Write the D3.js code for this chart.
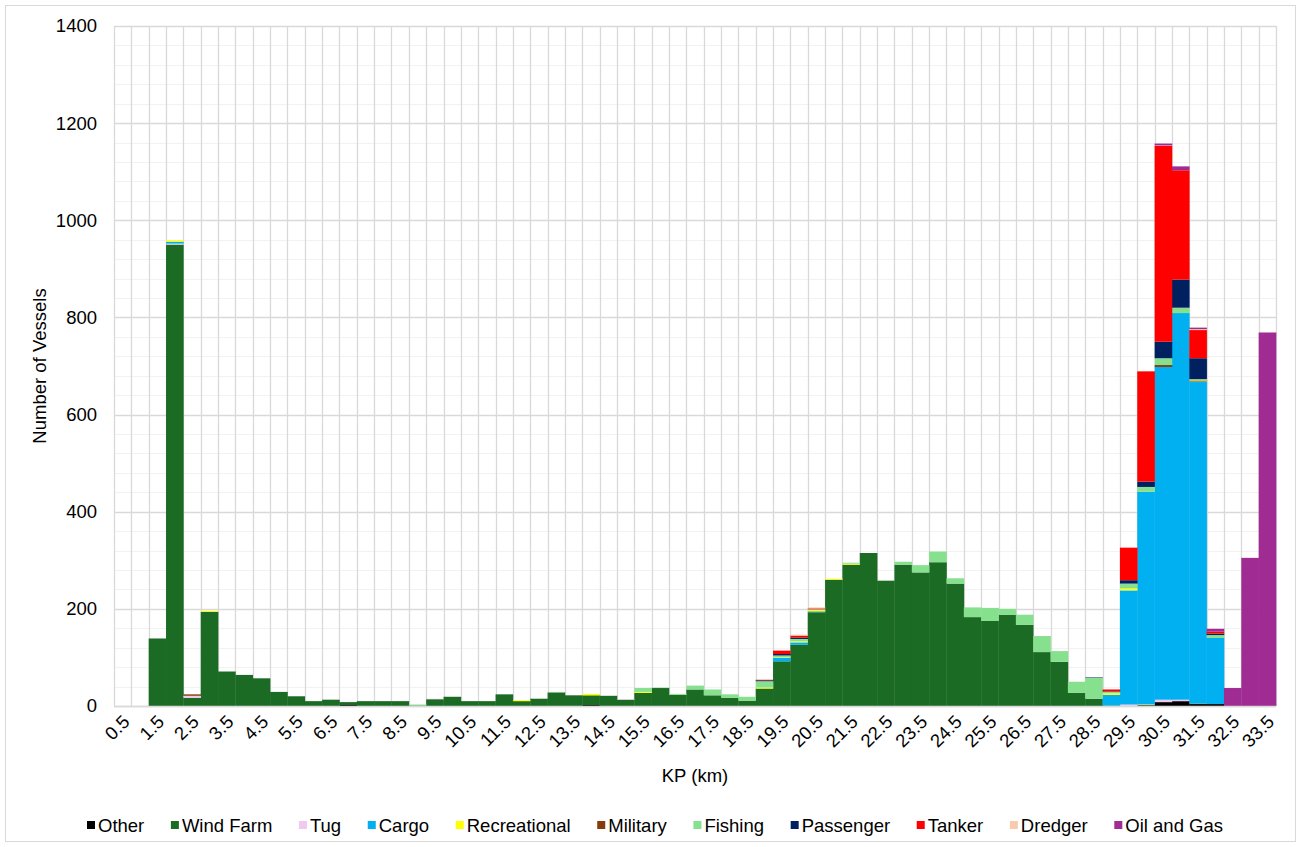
<!DOCTYPE html>
<html>
<head>
<meta charset="utf-8">
<script src="https://cdn.jsdelivr.net/npm/d3@7"></script>
<style>
  html, body { margin: 0; padding: 0; background: #fff; }
  svg text { font-family: "Liberation Sans", Arial, sans-serif; fill: #000; }
</style>
</head>
<body>
<svg id="chart" width="1301" height="847"></svg>
<script>
// Kilometre-post bins (0.5 km steps)
const categories = [
  "0.5","1.0","1.5","2.0","2.5","3.0","3.5","4.0","4.5","5.0",
  "5.5","6.0","6.5","7.0","7.5","8.0","8.5","9.0","9.5","10.0",
  "10.5","11.0","11.5","12.0","12.5","13.0","13.5","14.0","14.5","15.0",
  "15.5","16.0","16.5","17.0","17.5","18.0","18.5","19.0","19.5","20.0",
  "20.5","21.0","21.5","22.0","22.5","23.0","23.5","24.0","24.5","25.0",
  "25.5","26.0","26.5","27.0","27.5","28.0","28.5","29.0","29.5","30.0",
  "30.5","31.0","31.5","32.0","32.5","33.0","33.5"
];

// Labelled ticks on the KP axis
const tickLabels = [
  "0.5","1.5","2.5","3.5","4.5","5.5","6.5","7.5","8.5","9.5",
  "10.5","11.5","12.5","13.5","14.5","15.5","16.5","17.5","18.5","19.5",
  "20.5","21.5","22.5","23.5","24.5","25.5","26.5","27.5","28.5","29.5",
  "30.5","31.5","32.5","33.5"
];

const yTicks = [0, 200, 400, 600, 800, 1000, 1200, 1400];

// Vessel counts per bin, one array per vessel type
const other = [
  0,0,0,0,0,0,0,0,0,0,
  0,0,0,2,0,0,0,0,0,0,
  0,0,0,0,0,0,0,2,0,0,
  0,0,0,0,0,0,0,0,0,0,
  0,0,0,0,0,0,0,0,0,0,
  0,0,0,0,0,0,0,0,0,0,
  8,10,4,4,0,0,0
];
const windFarm = [
  0,0,139,950,17,194,71,64,57,29,
  20,10,13,6,10,10,10,1,14,19,
  10,10,24,10,15,28,22,20,21,13,
  27,37,23,34,22,17,11,36,92,126,
  193,260,291,315,258,291,275,296,252,183,
  175,188,167,111,91,27,15,1,0,3,
  0,0,1,0,0,0,0
];
const tug = [
  0,0,0,2,4,0,0,0,0,0,
  0,0,0,0,0,0,0,0,1,0,
  0,0,0,0,0,0,0,0,0,1,
  0,0,0,0,0,0,0,0,0,0,
  0,0,0,0,0,0,0,0,0,0,
  0,0,0,0,0,0,0,0,3,1,
  5,3,0,0,0,0,0
];
const cargo = [
  0,0,0,4,0,0,0,0,0,0,
  0,0,0,0,0,0,0,0,0,0,
  0,0,0,0,0,0,0,0,0,0,
  0,0,0,0,0,0,0,0,7,5,
  2,0,0,0,0,0,0,0,0,0,
  0,0,0,0,0,0,0,22,235,437,
  685,796,662,136,0,0,0
];
const recreational = [
  0,0,0,3,0,2,0,0,0,0,
  0,0,0,0,0,0,0,0,0,0,
  0,0,0,2,0,0,0,3,0,0,
  2,0,0,0,0,0,0,2,1,2,
  3,2,2,0,0,0,0,0,0,0,
  0,0,0,0,0,0,0,3,4,0,
  0,0,1,0,0,0,0
];
const military = [
  0,0,0,0,3,0,0,0,0,0,
  0,0,0,0,0,0,0,0,0,0,
  0,0,0,0,0,0,0,0,0,0,
  0,0,0,0,0,0,0,0,0,0,
  0,0,0,0,0,0,0,0,0,0,
  0,0,0,0,0,0,0,0,0,0,
  4,0,2,0,0,0,0
];
const fishing = [
  0,0,0,0,0,0,0,0,0,0,
  0,0,0,0,0,0,0,2,0,0,
  0,0,0,0,0,1,0,0,0,0,
  8,1,2,8,12,7,8,13,4,5,
  1,0,2,0,0,6,15,22,11,20,
  27,12,21,33,22,23,43,3,10,10,
  14,11,3,6,0,0,0
];
const passenger = [
  0,0,0,0,0,0,0,0,0,0,
  0,0,0,0,0,0,0,0,0,0,
  0,0,0,0,0,0,0,0,0,0,
  0,0,0,0,0,0,0,2,3,3,
  0,0,0,0,0,0,0,0,0,0,
  0,0,0,0,0,0,1,1,7,11,
  34,58,43,3,0,0,0
];
const tanker = [
  0,0,0,0,0,0,0,0,0,0,
  0,0,0,0,0,0,0,0,0,0,
  0,0,0,0,0,0,0,0,0,0,
  0,0,0,0,0,0,0,1,7,4,
  2,0,0,0,0,0,0,0,0,0,
  0,0,0,0,0,0,0,4,67,227,
  403,225,58,4,0,0,0
];
const dredger = [
  0,0,0,0,0,0,0,0,0,0,
  0,0,0,0,0,0,0,0,0,0,
  0,0,0,0,0,0,0,0,0,0,
  0,0,0,0,0,0,0,0,0,2,
  2,0,0,0,0,0,0,0,0,0,
  0,0,0,0,0,0,0,0,0,0,
  1,0,2,0,0,0,0
];
const oilAndGas = [
  0,0,0,0,0,0,0,0,0,0,
  0,0,0,0,0,0,0,0,0,0,
  0,0,0,0,0,0,0,0,0,0,
  0,0,0,0,0,0,0,0,0,0,
  0,0,0,0,0,0,0,0,0,0,
  0,0,0,0,0,0,0,0,0,0,
  4,8,3,6,37,305,769
];

const seriesNames = ["Other","Wind Farm","Tug","Cargo","Recreational","Military","Fishing","Passenger","Tanker","Dredger","Oil and Gas"];
const seriesValues = [other, windFarm, tug, cargo, recreational, military, fishing, passenger, tanker, dredger, oilAndGas];
const seriesColors = ["#000000","#1b6b24","#f2c9ee","#00b0f0","#ffff00","#843c0c","#86e08e","#002060","#ff0000","#f8cbad","#a02b93"];

// Build row objects for d3.stack
const rows = categories.map((c, i) => {
  const r = { kp: c };
  seriesNames.forEach((n, s) => { r[n] = seriesValues[s][i]; });
  return r;
});

const svg = d3.select("#chart");
const W = 1301, H = 847;
const plot = { left: 114, right: 1276, top: 26, bottom: 706 };
const FONT = "18.5px";

// Outer chart border
svg.append("rect")
  .attr("x", 5.5).attr("y", 5.5)
  .attr("width", W - 11).attr("height", H - 11)
  .attr("fill", "#fff").attr("stroke", "#d9d9d9").attr("stroke-width", 1);

const x = d3.scaleBand().domain(categories).range([plot.left, plot.right]).padding(0);
const y = d3.scaleLinear().domain([0, 1400]).range([plot.bottom, plot.top]);

// Minor horizontal gridlines
const grid = svg.append("g");
grid.selectAll("line.minor")
  .data(d3.range(0, 1401, 40).filter(v => v % 200 !== 0))
  .join("line")
  .attr("x1", plot.left).attr("x2", plot.right)
  .attr("y1", d => Math.round(y(d)) + 0.5).attr("y2", d => Math.round(y(d)) + 0.5)
  .attr("stroke", "#f2f2f2").attr("stroke-width", 1);

// Vertical gridlines at every bin boundary
const boundaries = categories.map(c => x(c)).concat([plot.right]);
grid.selectAll("line.v")
  .data(boundaries)
  .join("line")
  .attr("x1", d => Math.round(d) + 0.5).attr("x2", d => Math.round(d) + 0.5)
  .attr("y1", plot.top).attr("y2", plot.bottom)
  .attr("stroke", "#d9d9d9").attr("stroke-width", 1.3);

// Major horizontal gridlines
grid.selectAll("line.major")
  .data(yTicks)
  .join("line")
  .attr("x1", plot.left).attr("x2", plot.right)
  .attr("y1", d => Math.round(y(d)) + 0.5).attr("y2", d => Math.round(y(d)) + 0.5)
  .attr("stroke", "#d9d9d9").attr("stroke-width", 1.3);

// Stacked bars
const stacked = d3.stack().keys(seriesNames)(rows);
svg.append("g").selectAll("g")
  .data(stacked)
  .join("g")
  .attr("fill", (d, i) => seriesColors[i])
  .selectAll("rect")
  .data(d => d)
  .join("rect")
  .attr("x", d => x(d.data.kp))
  .attr("width", x.bandwidth() + 0.3)
  .attr("y", d => y(d[1]))
  .attr("height", d => Math.max(0, y(d[0]) - y(d[1])));

// Category axis baseline
svg.append("line")
  .attr("x1", plot.left).attr("x2", plot.right)
  .attr("y1", plot.bottom + 0.5).attr("y2", plot.bottom + 0.5)
  .attr("stroke", "#d9d9d9").attr("stroke-width", 1.3);

// Y axis
const yAxis = svg.append("g")
  .attr("transform", `translate(${plot.left},0)`)
  .call(d3.axisLeft(y).tickValues(yTicks).tickFormat(d3.format("d")).tickSize(0).tickPadding(17));
yAxis.select(".domain").remove();
yAxis.selectAll("text")
  .style("font-family", '"Liberation Sans", Arial, sans-serif')
  .style("font-size", FONT).attr("fill", "#000");

// X axis with rotated labels
const xAxis = svg.append("g")
  .attr("transform", `translate(0,${plot.bottom})`)
  .call(d3.axisBottom(x).tickValues(tickLabels).tickSize(0).tickPadding(0));
xAxis.select(".domain").remove();
xAxis.selectAll("text")
  .style("font-family", '"Liberation Sans", Arial, sans-serif')
  .style("font-size", FONT).attr("fill", "#000")
  .attr("text-anchor", "end")
  .attr("dy", null)
  .attr("y", 0)
  .attr("transform", "translate(8,17) rotate(-45)");

// Axis titles
svg.append("text")
  .attr("x", (plot.left + plot.right) / 2).attr("y", 782)
  .attr("text-anchor", "middle")
  .style("font-size", FONT)
  .text("KP (km)");

svg.append("text")
  .attr("transform", `translate(46,${(plot.top + plot.bottom) / 2}) rotate(-90)`)
  .attr("text-anchor", "middle")
  .style("font-size", FONT)
  .text("Number of Vessels");

// Legend
const legend = svg.append("g");
const sq = 8, sqGap = 3;
const items = legend.selectAll("g").data(seriesNames).join("g");
items.append("rect").attr("width", sq).attr("height", sq)
  .attr("y", -sq / 2 - 1)
  .attr("fill", (d, i) => seriesColors[i]);
items.append("text")
  .attr("x", sq + sqGap).attr("dy", "0.35em")
  .style("font-size", FONT)
  .text(d => d);
const widths = [];
items.each(function () { widths.push(this.querySelector("text").getComputedTextLength()); });
const legStart = 87, legEnd = 1223;
const itemGap = (legEnd - legStart - d3.sum(widths) - seriesNames.length * (sq + sqGap)) / (seriesNames.length - 1);
let cx = legStart;
items.attr("transform", (d, i) => {
  const t = `translate(${cx},826)`;
  cx += sq + sqGap + widths[i] + itemGap;
  return t;
});
</script>
</body>
</html>
